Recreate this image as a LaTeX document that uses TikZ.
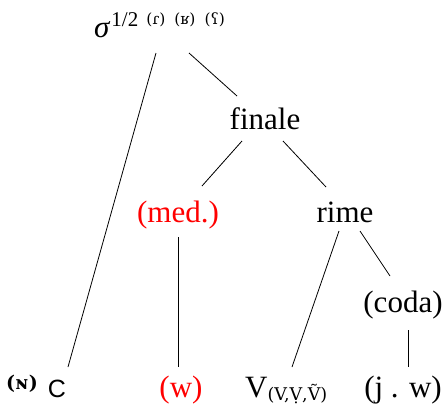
\documentclass[tikz,border=0pt]{standalone}
\usepackage{fontspec}
\setmainfont{Liberation Serif}
\newfontfamily\ipafont{DejaVu Serif}
\newfontfamily\consfont{Liberation Sans}
\usetikzlibrary{calc}

\begin{document}
\begin{tikzpicture}[x=1pt, y=-1pt, every node/.style={inner sep=0pt, font=\fontsize{31}{36}\selectfont},
    optional/.style={text=red}, branch/.style={line width=0.8pt}]
  \useasboundingbox (0,0) rectangle (445,407);
  \node[anchor=base west] (sigma) at (94,37) {\textit{σ}\hspace{1pt}\raisebox{11pt}{\fontsize{21}{21}\selectfont 1/2}\hspace{8pt}\raisebox{13pt}{\ipafont\fontsize{15.5}{16}\selectfont (ɾ)\hspace{9pt}(ʁ)\hspace{9pt}(ʕ)}};
  \node[anchor=base] (finale) at (265,129) {finale};
  \node[anchor=base,optional] (med) at (178,222) {(med.)};
  \node[anchor=base] (rime) at (345,222) {rime};
  \node[anchor=base] (coda) at (403,312) {(coda)};
  \node[anchor=base] (nasal) at (22,389) {\ipafont\bfseries\fontsize{19}{19}\selectfont (ɴ)};
  \node[anchor=base] (cons) at (57,397) {\consfont\fontsize{25}{25}\selectfont C};
  \node[anchor=base,optional] (glide) at (181,397) {(w)};
  \node[anchor=base west] (vowel) at (245,397) {V\raisebox{-3pt}{\ipafont\fontsize{17.5}{18}\selectfont (V,Ṿ,Ṽ)}};
  \node[anchor=base] (jw) at (403,397) {(j . w)};
  \draw[branch] ($(sigma.base west)+(62,16)$) -- ($(cons.base)+(11,-30)$);
  \draw[branch] ($(sigma.base west)+(95,16)$) -- ($(finale.base)+(-28,-33)$);
  \draw[branch] ($(finale.base)+(-23,12)$) -- ($(med.base)+(24,-36)$);
  \draw[branch] ($(finale.base)+(18,12)$) -- ($(rime.base)+(-19,-35)$);
  \draw[branch] ($(med.base)+(0,15)$) -- ($(glide.base)+(-3,-30)$);
  \draw[branch] ($(rime.base)+(-6,9)$) -- ($(vowel.base west)+(47,-30)$);
  \draw[branch] ($(rime.base)+(15,9)$) -- ($(coda.base)+(-13,-36)$);
  \draw[branch] ($(coda.base)+(5,18)$) -- ($(jw.base)+(5,-30)$);
\end{tikzpicture}
\end{document}
